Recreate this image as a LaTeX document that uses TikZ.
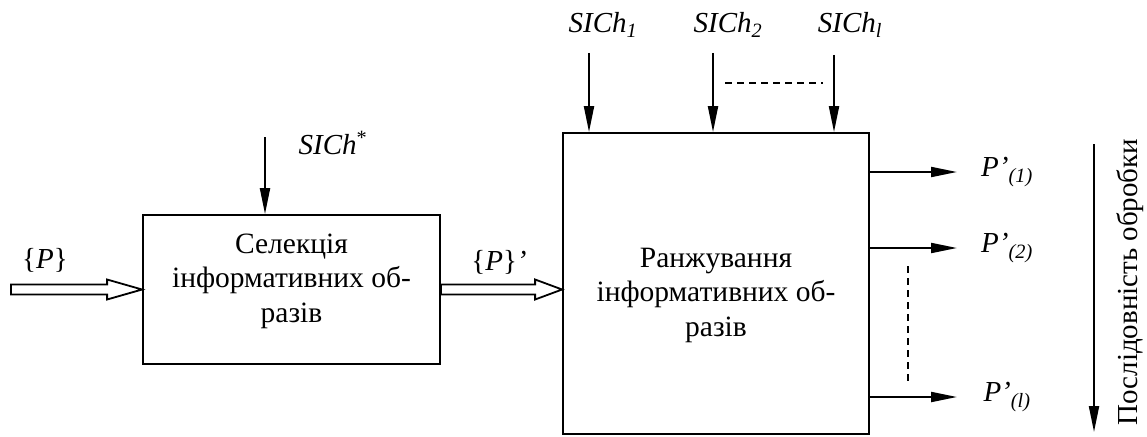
\documentclass[tikz,border=0pt]{standalone}
\usepackage{fontspec}
\setmainfont{Liberation Serif}
\usetikzlibrary{arrows.meta,calc}
\begin{document}
\begin{tikzpicture}[x=1pt,y=-1pt,
  box/.style={draw,line width=1.8pt,inner sep=0pt},
  lbl/.style={font=\fontsize{29}{34}\selectfont, inner sep=0pt},
  txt/.style={font=\fontsize{29.5}{34.5}\selectfont, align=center, inner sep=0pt},
  arr/.style={line width=2pt,-{Triangle[length=26pt,width=10pt]}},
  dsh/.style={line width=1.3pt,dash pattern=on 7pt off 5pt},
  hollow/.style={line width=1.8pt, line join=miter}]
\useasboundingbox (0,0) rectangle (1147,436);
% boxes
\node[box, minimum width=297pt, minimum height=149pt] (sel) at (291.5,289.5) {};
\node[box, minimum width=306pt, minimum height=301pt] (rank) at (716,283.5) {};
\node[txt] (seltxt) at (291.5,281) {Селекція\\інформативних об-\\разів};
\node[txt] (ranktxt) at (716,295) {Ранжування\\інформативних об-\\разів};
% hollow input arrow {P}
\coordinate (pin) at (11,288);
\draw[hollow] ($(pin|-sel.west)+(0,-5)$) -- ($(sel.west)+(-35,-5)$) -- ($(sel.west)+(-35,-10)$) -- (sel.west) -- ($(sel.west)+(-35,10)$) -- ($(sel.west)+(-35,5)$) -- ($(pin|-sel.west)+(0,5)$) -- cycle;
\node[lbl] (plab) at (45,260) {\{\textit{P}\}};
% hollow arrow {P}'
\draw[hollow] ($(sel.east)+(0,-5)$) -- ($(rank.west|-sel.east)+(-27,-5)$) -- ($(rank.west|-sel.east)+(-27,-10)$) -- (rank.west|-sel.east) -- ($(rank.west|-sel.east)+(-27,10)$) -- ($(rank.west|-sel.east)+(-27,5)$) -- ($(sel.east)+(0,5)$) -- cycle;
\node[lbl] (pplab) at (499,262) {\{\textit{P}\}\textit{’}};
% SICh*
\coordinate (cs) at (265,137);
\draw[arr] (cs) -- (cs |- sel.north);
\node[lbl] (lsx) at (333,143) {\textit{SICh}\textsuperscript{*}};
% SICh inputs
\coordinate (c1) at (589,53);
\coordinate (c2) at (713,53);
\coordinate (c3) at (834,55);
\draw[arr] (c1) -- (c1 |- rank.north);
\draw[arr] (c2) -- (c2 |- rank.north);
\draw[arr] (c3) -- (c3 |- rank.north);
\node[lbl] (l1) at (603,25) {\textit{SICh\textsubscript{1}}};
\node[lbl] (l2) at (728,25) {\textit{SICh\textsubscript{2}}};
\node[lbl] (l3) at (850,25) {\textit{SICh\textsubscript{l}}};
\coordinate (d1) at (725,83);
\coordinate (d2) at (823,83);
\draw[dsh] (d1) -- (d2);
% outputs
\coordinate (o1) at (957,172);
\coordinate (o2) at (957,248);
\coordinate (o3) at (957,397);
\draw[arr] (rank.east |- o1) -- (o1);
\draw[arr] (rank.east |- o2) -- (o2);
\draw[arr] (rank.east |- o3) -- (o3);
\node[lbl] (p1) at (1007,172) {\textit{P’\textsubscript{(1)}}};
\node[lbl] (p2) at (1007,248) {\textit{P’\textsubscript{(2)}}};
\node[lbl] (p3) at (1007,397) {\textit{P’\textsubscript{(l)}}};
\coordinate (v1) at (908,266);
\coordinate (v2) at (908,382);
\draw[dsh] (v1) -- (v2);
% sequence arrow
\coordinate (q1) at (1094,144);
\coordinate (q2) at (1094,432);
\draw[arr] (q1) -- (q2);
\node[lbl, rotate=90] (seq) at (1130,282) {Послідовність обробки};
\end{tikzpicture}
\end{document}
